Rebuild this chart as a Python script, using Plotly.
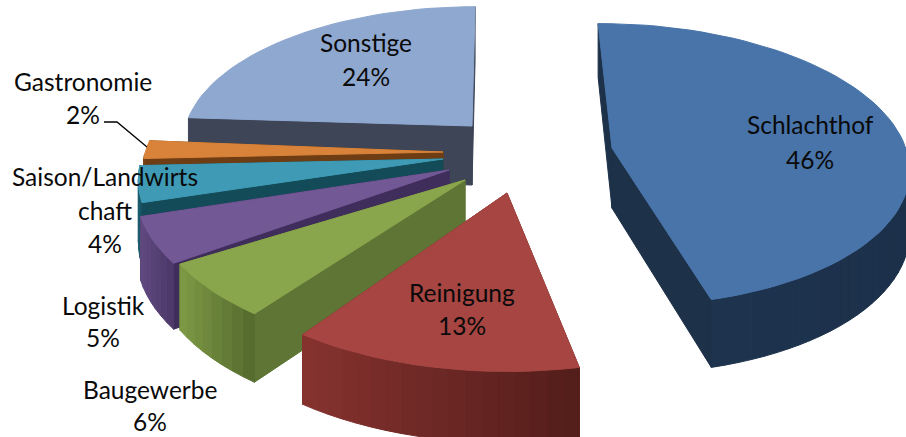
import math
import plotly.graph_objects as go

# ---- data ----
categories = ["Schlachthof", "Reinigung", "Baugewerbe", "Logistik", "Saison/Landwirtschaft", "Gastronomie", "Sonstige"]
values = [46, 13, 6, 5, 4, 2, 24]

# ---- style / layout ----
top_colors = ["#4874A9", "#A64541", "#8AA64C", "#735896", "#3F9BB5", "#D9833A", "#8FA8D0"]
radial_colors = ["#1D3149", "#6E2826", "#5F7535", "#3F2D5C", "#144B59", "#6F3D14", "#3E4557"]
wall_left = ["#1F3551", "#86322F", "#7E9A45", "#604A80", "#1E6072", "#7A451A", "#4A5570"]
wall_right = ["#1C304A", "#521D1A", "#54692E", "#4B3768", "#144B59", "#6F3D14", "#3E4557"]
apex = [(612, 148), (507, 193), (465, 180), (449, 170), (443, 159), (443, 152), (472, 126)]
radius = [298, 310, 306, 308, 303, 301, 296]
twist_deg = [-0.5, 3, 4.5, 0.5, 1, 1, 0]
CX, CY, K, A, DEPTH = 502, 165, 0.48, 0.0004, 61
draw_order = [6, 5, 4, 3, 2, 1, 0]

label_lines = [
    ("Schlachthof", 810, 124), ("46%", 810, 159),
    ("Reinigung", 462, 292), ("13%", 462, 325),
    ("Baugewerbe", 150, 389), ("6%", 150, 421),
    ("Logistik", 103, 305), ("5%", 103, 337),
    ("Saison/Landwirts", 105, 176), ("chaft", 105, 210), ("4%", 105, 243),
    ("Gastronomie", 83, 81), ("2%", 83, 114),
    ("Sonstige", 366, 42), ("24%", 366, 76),
]


def project(X, Y):
    s = 1 / (1 + A * Y)
    return CX + X * s, CY - K * Y * s, s


def unproject(sx, sy):
    ys = (CY - sy) / K
    s = 1 - A * ys
    return (sx - CX) / s, ys / s


def hexmix(c1, c2, t):
    a = [int(c1[i:i + 2], 16) for i in (1, 3, 5)]
    b = [int(c2[i:i + 2], 16) for i in (1, 3, 5)]
    return "#%02X%02X%02X" % tuple(round(p + (q - p) * t) for p, q in zip(a, b))


def poly(fig, pts, color):
    fig.add_trace(go.Scatter(
        x=[p[0] for p in pts] + [pts[0][0]], y=[p[1] for p in pts] + [pts[0][1]],
        mode="lines", fill="toself", fillcolor=color,
        line=dict(color=color, width=1), hoverinfo="skip", showlegend=False))


def top(P):
    return project(*P)[:2]


def bottom(P):
    x, y, s = project(*P)
    return x, y + DEPTH * s


fig = go.Figure()
total = sum(values)
starts = []
acc = 0
for v in values:
    starts.append(acc)
    acc += v

for i in draw_order:
    tw = math.radians(twist_deg[i])
    a0 = 2 * math.pi * starts[i] / total + tw
    a1 = 2 * math.pi * (starts[i] + values[i]) / total + tw
    X0, Y0 = unproject(*apex[i])
    R = radius[i]
    n = max(4, int((a1 - a0) / math.radians(2.5)))
    angles = [a0 + (a1 - a0) * j / n for j in range(n + 1)]
    arc = [(X0 + R * math.sin(a), Y0 + R * math.cos(a)) for a in angles]
    C = (X0, Y0)
    walls = [[C, arc[0]], [C, arc[-1]]]
    walls.sort(key=lambda w: -w[1][1])
    for w in walls:
        poly(fig, [top(w[0]), top(w[1]), bottom(w[1]), bottom(w[0])], radial_colors[i])
    sxs = [top(p)[0] for p in arc]
    lo, hi = min(sxs), max(sxs)
    for j in range(n):
        # only the part of the rim that faces the viewer is drawn
        if math.cos((angles[j] + angles[j + 1]) / 2) >= 0:
            continue
        t = ((sxs[j] + sxs[j + 1]) / 2 - lo) / max(hi - lo, 1)
        poly(fig, [top(arc[j]), top(arc[j + 1]), bottom(arc[j + 1]), bottom(arc[j])], hexmix(wall_left[i], wall_right[i], t))
    poly(fig, [top(C)] + [top(p) for p in arc], top_colors[i])

fig.add_trace(go.Scatter(x=[104, 117, 147], y=[122, 122, 147], mode="lines",
                         line=dict(color="black", width=1.3), hoverinfo="skip", showlegend=False))

for text, x, y in label_lines:
    fig.add_annotation(x=x, y=y, text=text, showarrow=False, xanchor="center", yanchor="middle",
                       font=dict(family="Lato", size=24.5, color="#0A0A0A"))

fig.update_xaxes(visible=False, range=[0, 906], fixedrange=True)
fig.update_yaxes(visible=False, range=[437, 0], fixedrange=True)
fig.update_layout(width=906, height=437, margin=dict(l=0, r=0, t=0, b=0),
                  paper_bgcolor="white", plot_bgcolor="white", showlegend=False)
fig.write_html("out.html", config={"displayModeBar": False},
               post_script="document.body.style.margin='0';document.documentElement.style.overflow='hidden';")
